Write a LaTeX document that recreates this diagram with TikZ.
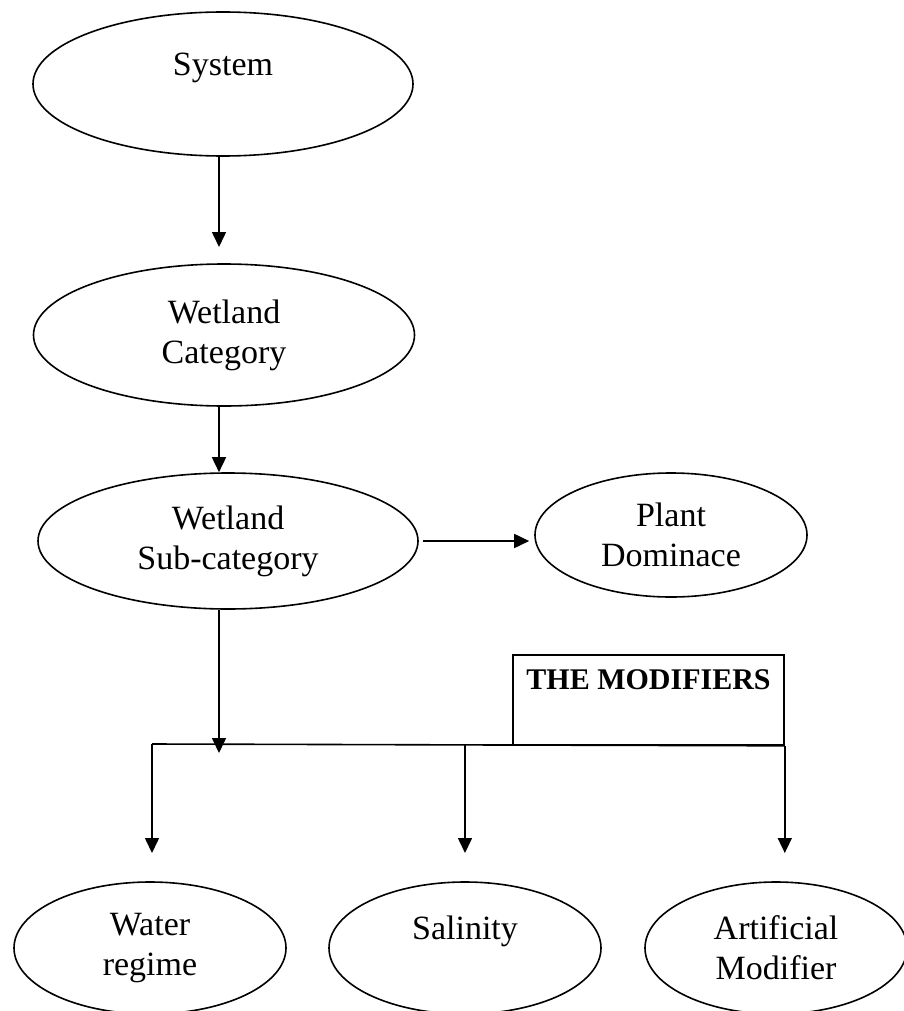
\documentclass[tikz,border=0pt]{standalone}
\usepackage{fontspec}
\setmainfont{Liberation Serif}
\usetikzlibrary{shapes.geometric,arrows.meta}
\tikzset{oval/.style={ellipse,draw,line width=1.6pt,inner sep=0pt,align=center,font=\fontsize{34}{40}\selectfont},
arr/.style={line width=1.6pt,-{Triangle[width=14pt,length=15pt]}}}
\begin{document}
\begin{tikzpicture}[x=1pt,y=-1pt]
\useasboundingbox (0,0) rectangle (904,1011);
\node[oval,minimum width=380pt,minimum height=144pt] (sys) at (223,84){System\\ ~};
\node[oval,minimum width=381pt,minimum height=142pt] (cat) at (224,335){Wetland\\Category};
\node[oval,minimum width=380pt,minimum height=136pt] (sub) at (228,541){Wetland\\Sub-category};
\node[oval,minimum width=272pt,minimum height=124pt] (plant) at (671,535){Plant\\Dominace};
\node[draw,line width=1.6pt,minimum width=271pt,minimum height=90pt,inner sep=0pt,align=center,font=\bfseries\fontsize{30}{40}\selectfont] (mods) at (648.5,700){THE MODIFIERS\\ ~};
\node[oval,minimum width=272pt,minimum height=132pt] (water) at (150,948){Water\\regime};
\node[oval,minimum width=272pt,minimum height=132pt] (sal) at (465,948){Salinity\\ ~};
\node[oval,minimum width=262pt,minimum height=132pt] (art) at (776,948){Artificial\\Modifier};
% spine and bus
\coordinate (spine) at (219,0);\coordinate (t1) at (219,247);\coordinate (j) at (219,753);
\coordinate (bl) at (152,744);\coordinate (lv) at (0,853);
\draw[arr] (spine |- sys.south) -- (t1);
\draw[arr] (spine |- cat.south) -- (spine |- sub.north);
\draw[arr] ([xshift=4pt]sub.east) -- ([xshift=-5pt]sub.east -| plant.west);
\draw[line width=1.6pt] (bl) -- (mods.south east);
\draw[arr] (spine |- sub.south) -- (j);
\draw[arr] (bl) -- (bl |- lv);\draw[arr] (sal.north |- bl) -- (sal.north |- lv);
\draw[arr] (mods.south east) -- (mods.south east |- lv);
\end{tikzpicture}
\end{document}
